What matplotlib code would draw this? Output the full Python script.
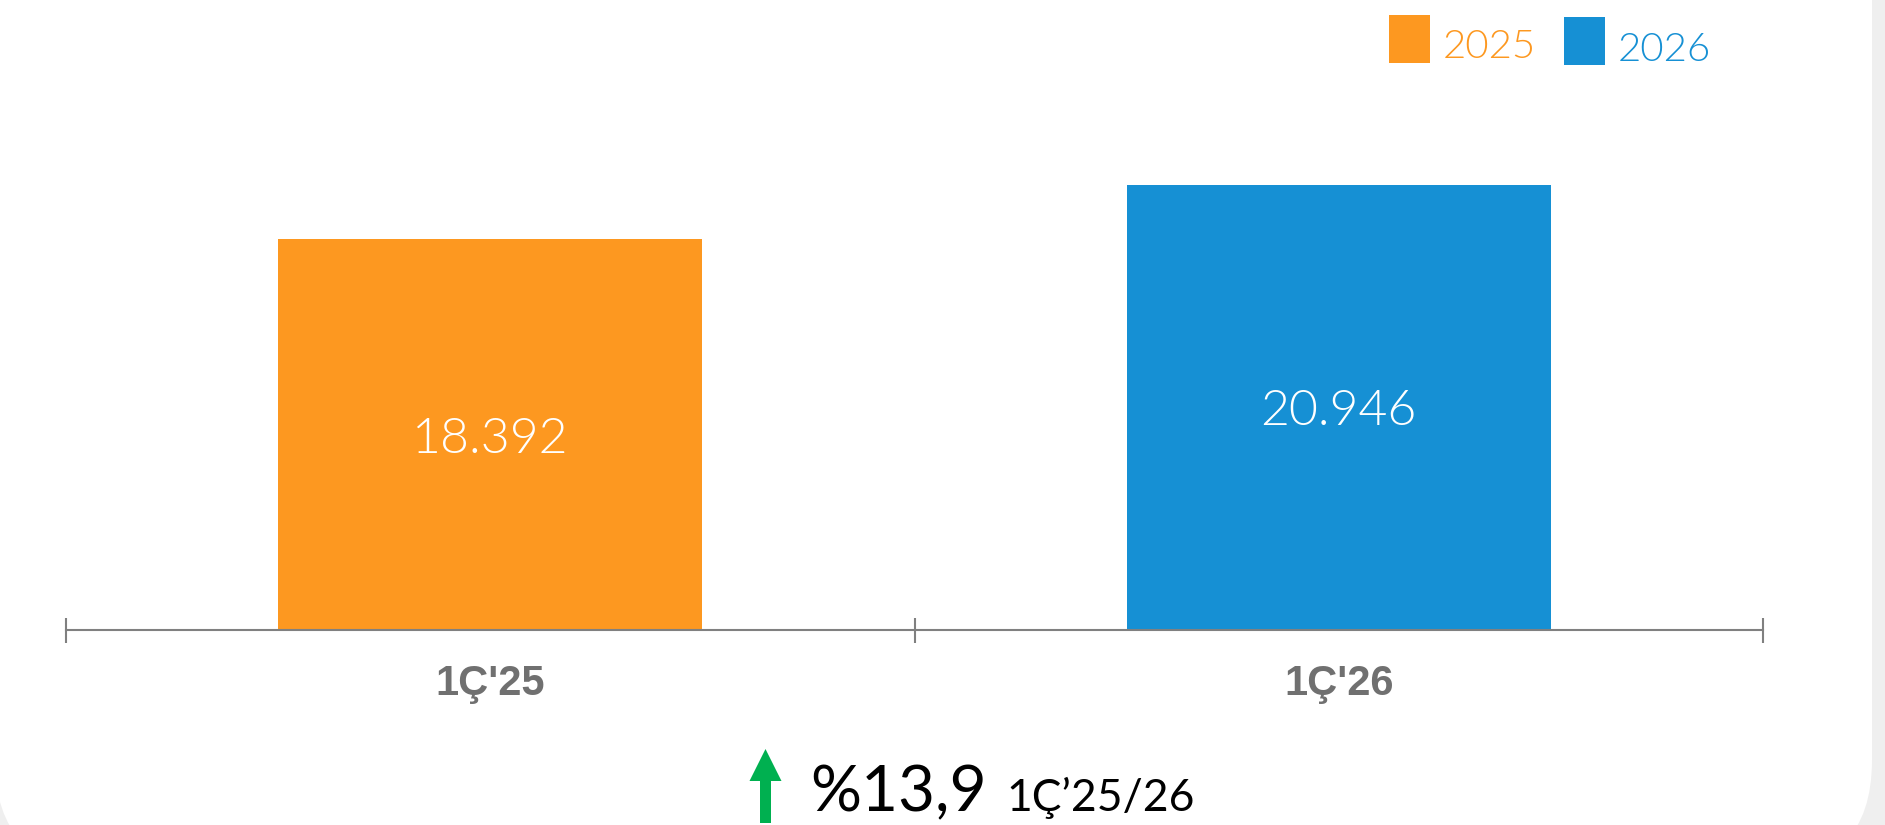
import matplotlib.pyplot as plt
from matplotlib.patches import FancyBboxPatch, Rectangle, FancyArrow

# data
categories = ["1Ç'25", "1Ç'26"]
years = ["2025", "2026"]
values = [18392, 20946]
value_labels = ["18.392", "20.946"]
bar_colors = ["#FD9820", "#1690D4"]
change_text = "%13,9"
change_period = "1Ç’25/26"

W, H = 1885, 825
fig = plt.figure(figsize=(W / 100, H / 100), dpi=100)
fig.patch.set_facecolor("#efefef")

# background card in pixel coordinates
bg = fig.add_axes([0, 0, 1, 1], zorder=0)
bg.set_xlim(0, W)
bg.set_ylim(H, 0)
bg.axis("off")
bg.add_patch(FancyBboxPatch((-5, -200), 1877, 1070,
                            boxstyle="round,pad=0,rounding_size=110",
                            fc="white", ec="none"))

thin = dict(family=["Lato", "DejaVu Sans"], fontweight=300)

# legend
legend_items = [(1389, 15, 62), (1564, 17, 65)]
for (x0, y0, base), yr, col in zip(legend_items, years, bar_colors):
    bg.add_patch(Rectangle((x0, y0), 41, 48, fc=col, ec="none"))
    bg.text(x0 + 54, base - 4, yr, color=col, fontsize=29, ha="left", va="baseline", **thin)

# growth annotation
bg.add_patch(FancyArrow(765.5, 823, 0, -74, width=11, head_width=32, head_length=32,
                        length_includes_head=True, fc="#00B050", ec="none"))
t1 = bg.text(810, 811, change_text, color="black", fontsize=46, ha="left", va="baseline",
             family=["Lato", "DejaVu Sans"])
fig.canvas.draw()
ext = t1.get_window_extent()
bg.text(ext.x1 + 20, 811, change_period, color="black", fontsize=32, ha="left", va="baseline",
        family=["Lato", "DejaVu Sans"])

# main chart
ax = fig.add_axes([66 / W, (H - 630) / H, 1697 / W, 630 / H], zorder=1)
ax.patch.set_alpha(0)
x = list(range(len(categories)))
ax.bar(x, values, width=0.5, color=bar_colors, zorder=2)
ax.set_xlim(-0.5, len(categories) - 0.5)
ax.set_ylim(0, 630 / (391 / values[0]))

for xi, v, lab in zip(x, values, value_labels):
    ax.annotate(lab, (xi, v / 2), xytext=(0, -13), textcoords="offset points",
                color="white", fontsize=36, ha="center", va="baseline", **thin)

for xi, cat in zip(x, categories):
    ax.annotate(cat, (xi, 0), xytext=(0, -46.8), textcoords="offset points",
                color="#707070", fontsize=30, fontweight="bold", ha="center", va="baseline",
                family=["Liberation Sans", "DejaVu Sans"])

for s in ["top", "right", "left"]:
    ax.spines[s].set_visible(False)
ax.spines["bottom"].set_color("#808080")
ax.spines["bottom"].set_linewidth(1.5)
ax.set_yticks([])
ax.set_xticks([])
ax.set_xticks([i - 0.5 for i in range(len(categories) + 1)], minor=True)
ax.tick_params(axis="x", which="minor", direction="inout", length=18, width=1.5,
               color="#808080", labelbottom=False)

fig.savefig("out.png", dpi=100)
